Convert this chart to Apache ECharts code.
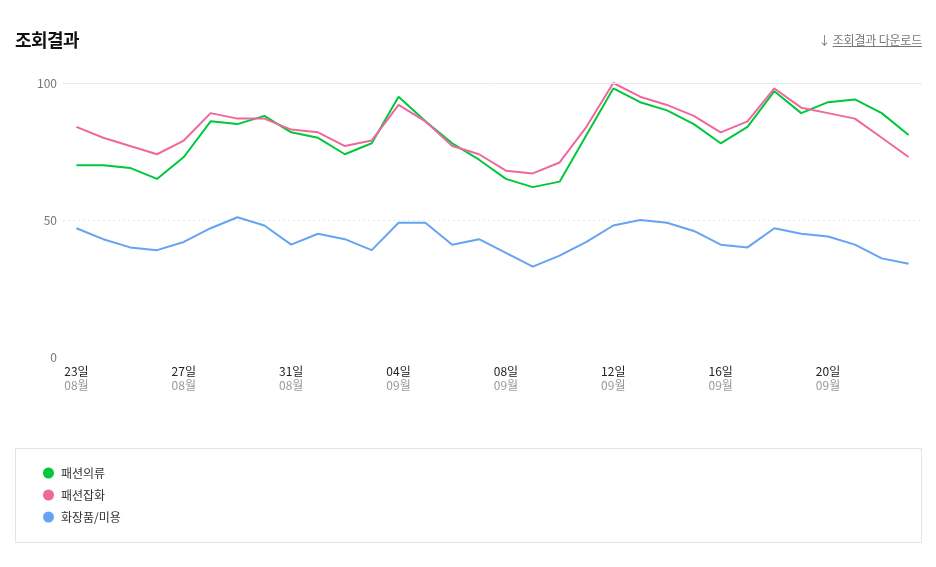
<!DOCTYPE html>
<html>
<head>
<meta charset="utf-8">
<script src="https://cdn.jsdelivr.net/npm/echarts@6/dist/echarts.min.js"></script>
<style>
  body { margin: 0; background: #fff; font-family: "Noto Sans CJK KR", "Noto Sans", sans-serif; }
  #wrap { position: relative; width: 936px; height: 567px; overflow: hidden; }
  #chart { position: absolute; left: 0; top: 0; width: 936px; height: 567px; }
  .title { position: absolute; left: 15px; top: 26px; font-size: 18px; font-weight: bold; color: #111; letter-spacing: -0.6px; }
  .down { position: absolute; right: 14px; top: 31px; font-size: 12px; color: #777; letter-spacing: -0.2px; }
  .down span { text-decoration: underline; }
  .legend-box { position: absolute; left: 15px; top: 448px; width: 907px; height: 95px; border: 1px solid #e4e4e4; box-sizing: border-box; pointer-events: none; }
</style>
</head>
<body>
<div id="wrap">
  <div class="legend-box"></div>
  <div id="chart"></div>
  <div class="title">조회결과</div>
  <div class="down">↓ <span>조회결과 다운로드</span></div>
</div>
<script>
// 날짜 (월-일)
const dates = [
  '08-23', '08-24', '08-25', '08-26', '08-27', '08-28', '08-29', '08-30',
  '08-31', '09-01', '09-02', '09-03', '09-04', '09-05', '09-06', '09-07',
  '09-08', '09-09', '09-10', '09-11', '09-12', '09-13', '09-14', '09-15',
  '09-16', '09-17', '09-18', '09-19', '09-20', '09-21', '09-22', '09-23'
];

// 패션의류
const fashionClothes = [70, 70, 69, 65, 73, 86, 85, 88, 82, 80, 74, 78, 95, 86, 78, 72,
  65, 62, 64, 81, 98, 93, 90, 85, 78, 84, 97, 89, 93, 94, 89, 81];

// 패션잡화
const fashionGoods = [84, 80, 77, 74, 79, 89, 87, 87, 83, 82, 77, 79, 92, 86, 77, 74,
  68, 67, 71, 84, 100, 95, 92, 88, 82, 86, 98, 91, 89, 87, 80, 73];

// 화장품/미용
const cosmetics = [47, 43, 40, 39, 42, 47, 51, 48, 41, 45, 43, 39, 49, 49, 41, 43,
  38, 33, 37, 42, 48, 50, 49, 46, 41, 40, 47, 45, 44, 41, 36, 34];

const seriesNames = ['패션의류', '패션잡화', '화장품/미용'];
const colors = ['#00c73c', '#f0679e', '#66a3f2'];
const yTicks = [0, 50, 100];

const chart = echarts.init(document.getElementById('chart'));

function makeLine(name, data, color) {
  return {
    name: name,
    type: 'line',
    data: data,
    symbol: 'none',
    smooth: false,
    lineStyle: { width: 2, color: color },
    itemStyle: { color: color }
  };
}

const series = [
  makeLine(seriesNames[0], fashionClothes, colors[0]),
  makeLine(seriesNames[1], fashionGoods, colors[1]),
  makeLine(seriesNames[2], cosmetics, colors[2])
];

// 상단 100 기준선은 실선
series[0].markLine = {
  silent: true,
  symbol: 'none',
  label: { show: false },
  lineStyle: { type: 'solid', color: '#eaeaea', width: 1 },
  data: [{ yAxis: yTicks[2] }]
};

const option = {
  animation: false,
  textStyle: { fontFamily: '"Noto Sans CJK KR", "Noto Sans", sans-serif' },
  grid: { left: 63, right: 14, top: 83, bottom: 210 },
  legend: {
    orient: 'vertical',
    left: 38,
    top: 462,
    icon: 'circle',
    itemWidth: 11,
    itemHeight: 11,
    itemGap: 10,
    data: seriesNames,
    textStyle: { fontSize: 12, color: '#333', lineHeight: 12, padding: [0, 0, 0, 2] }
  },
  xAxis: {
    type: 'category',
    data: dates,
    boundaryGap: true,
    axisLine: { show: false },
    axisTick: { show: false },
    axisLabel: {
      interval: 3,
      margin: 7,
      formatter: function (v) {
        const p = v.split('-');
        return '{d|' + p[1] + '일}\n{m|' + p[0] + '월}';
      },
      rich: {
        d: { fontSize: 12, color: '#222', lineHeight: 14 },
        m: { fontSize: 12, color: '#999', lineHeight: 14 }
      }
    }
  },
  yAxis: {
    type: 'value',
    min: yTicks[0],
    max: yTicks[2],
    interval: 50,
    axisLine: { show: false },
    axisTick: { show: false },
    axisLabel: { margin: 6, fontSize: 12, color: '#777' },
    splitLine: {
      show: true,
      lineStyle: { type: [2, 3], color: ['transparent', '#e6e6e6', 'transparent'] }
    }
  },
  series: series
};

chart.setOption(option);
</script>
</body>
</html>
